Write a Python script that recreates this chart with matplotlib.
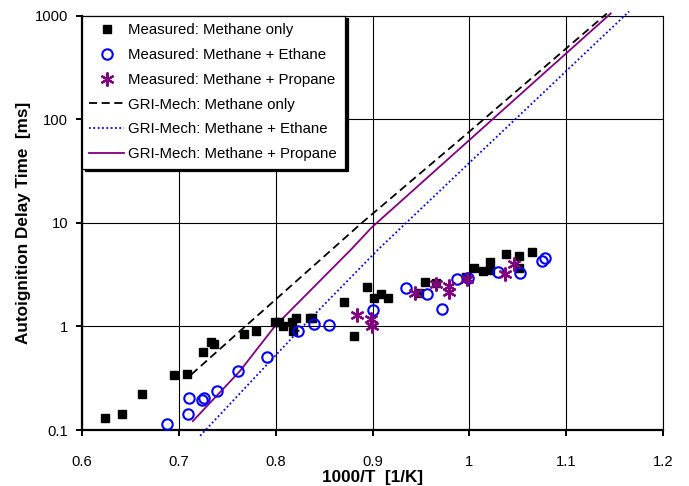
import numpy as np
import matplotlib
matplotlib.use("Agg")
import matplotlib.pyplot as plt
from matplotlib.ticker import FixedLocator, FuncFormatter, NullLocator

plt.rcParams["font.family"] = ["Liberation Sans", "DejaVu Sans"]

# measured ignition delays, 1000/T [1/K] vs delay [ms]
ch4_x = [0.624, 0.641, 0.662, 0.695, 0.708, 0.725, 0.733, 0.736, 0.767, 0.780,
         0.799, 0.803, 0.808, 0.817, 0.821, 0.818, 0.835, 0.838, 0.871, 0.881,
         0.894, 0.902, 0.909, 0.916, 0.948, 0.954, 0.966, 0.997, 1.005, 1.014,
         1.021, 1.021, 1.038, 1.051, 1.051, 1.065]
ch4_y = [0.131, 0.142, 0.222, 0.336, 0.346, 0.57, 0.70, 0.67, 0.85, 0.91,
         1.11, 1.10, 1.01, 1.11, 1.20, 0.91, 1.21, 1.20, 1.73, 0.81,
         2.42, 1.89, 2.05, 1.89, 2.12, 2.66, 2.60, 3.03, 3.69, 3.40,
         4.18, 3.52, 4.96, 4.75, 3.69, 5.25]

c2h6_x = [0.688, 0.709, 0.711, 0.724, 0.726, 0.739, 0.761, 0.791, 0.823, 0.840,
          0.855, 0.900, 0.935, 0.956, 0.972, 0.987, 0.999, 1.030, 1.052, 1.075,
          1.078]
c2h6_y = [0.114, 0.142, 0.202, 0.194, 0.204, 0.237, 0.37, 0.505, 0.90, 1.045,
          1.03, 1.45, 2.37, 2.04, 1.46, 2.86, 2.95, 3.36, 3.30, 4.27,
          4.6]

c3h8_x = [0.884, 0.898, 0.899, 0.944, 0.966, 0.979, 0.979, 0.998, 1.037, 1.046]
c3h8_y = [1.29, 1.18, 1.00, 2.12, 2.55, 2.45, 2.15, 2.88, 3.20, 3.97]

# GRI-Mech predictions
gri_ch4_x = [0.713, 0.763, 0.800, 0.889, 1.000, 1.142]
gri_ch4_y = [0.344, 0.90, 1.82, 10.0, 76.0, 1050.0]

gri_c2h6_x = [0.722, 0.828, 0.906, 1.000, 1.165]
gri_c2h6_y = [0.088, 1.0, 5.55, 38.0, 1100.0]

gri_c3h8_x = [0.7145, 0.763, 0.799, 0.878, 0.899, 1.000, 1.146]
gri_c3h8_y = [0.122, 0.37, 1.0, 5.55, 9.0, 63.0, 1050.0]

x_ticks = [0.6, 0.7, 0.8, 0.9, 1.0, 1.1, 1.2]
y_ticks = [0.1, 1, 10, 100, 1000]

purple = "#800080"

fig = plt.figure(figsize=(6.89, 4.86), dpi=100)
ax = fig.add_axes([0.119, 0.1152, 0.8433, 0.8525])

ax.plot(ch4_x, ch4_y, ls="none", marker="s", ms=5.8, color="black",
        label="Measured: Methane only", zorder=4)
ax.plot(c2h6_x, c2h6_y, ls="none", marker="o", ms=7.5, mfc="none", mec="#0000ff",
        mew=1.5, label="Measured: Methane + Ethane", zorder=4)
ax.plot(c3h8_x, c3h8_y, ls="none", marker=(6, 2, 0), ms=10, mec=purple,
        mew=1.6, label="Measured: Methane + Propane", zorder=5)

ax.plot(gri_ch4_x, gri_ch4_y, color="black", ls=(0, (4.5, 2.5)), lw=1.3,
        label="GRI-Mech: Methane only", clip_on=False, zorder=3)
ax.plot(gri_c2h6_x, gri_c2h6_y, color="#0000ff", ls=(0, (1, 1.4)), lw=1.3,
        label="GRI-Mech: Methane + Ethane", clip_on=False, zorder=3)
ax.plot(gri_c3h8_x, gri_c3h8_y, color=purple, lw=1.3,
        label="GRI-Mech: Methane + Propane", clip_on=False, zorder=3)

ax.set_yscale("log")
ax.set_xlim(0.6, 1.2)
ax.set_ylim(0.1, 1000)
ax.xaxis.set_major_locator(FixedLocator(x_ticks))
ax.yaxis.set_major_locator(FixedLocator(y_ticks))
ax.yaxis.set_minor_locator(NullLocator())
fmt = FuncFormatter(lambda v, p: "%g" % v)
ax.xaxis.set_major_formatter(fmt)
ax.yaxis.set_major_formatter(fmt)

ax.grid(True, color="black", lw=0.8)
ax.set_axisbelow(True)
ax.tick_params(direction="out", length=4, width=1.4, labelsize=10.6, pad=6)
ax.tick_params(axis="x", pad=14)
for side in ["left", "bottom"]:
    ax.spines[side].set_linewidth(1.6)
for side in ["top", "right"]:
    ax.spines[side].set_linewidth(0.8)

ax.set_xlabel("1000/T  [1/K]", fontsize=12.3, fontweight="bold", labelpad=1)
ax.set_ylabel("Autoignition Delay Time  [ms]", fontsize=12.3, fontweight="bold", labelpad=3)

leg = ax.legend(loc="upper left", bbox_to_anchor=(0.0, 1.0), borderaxespad=0.0,
                fontsize=10.8, numpoints=1, handlelength=2.3, handletextpad=0.3,
                labelspacing=0.72, borderpad=0.5, fancybox=False,
                edgecolor="black", framealpha=1,
                shadow={"color": "black", "alpha": 1})
leg.get_frame().set_linewidth(0.9)
leg.set_zorder(10)

fig.savefig("out.png", dpi=100)
